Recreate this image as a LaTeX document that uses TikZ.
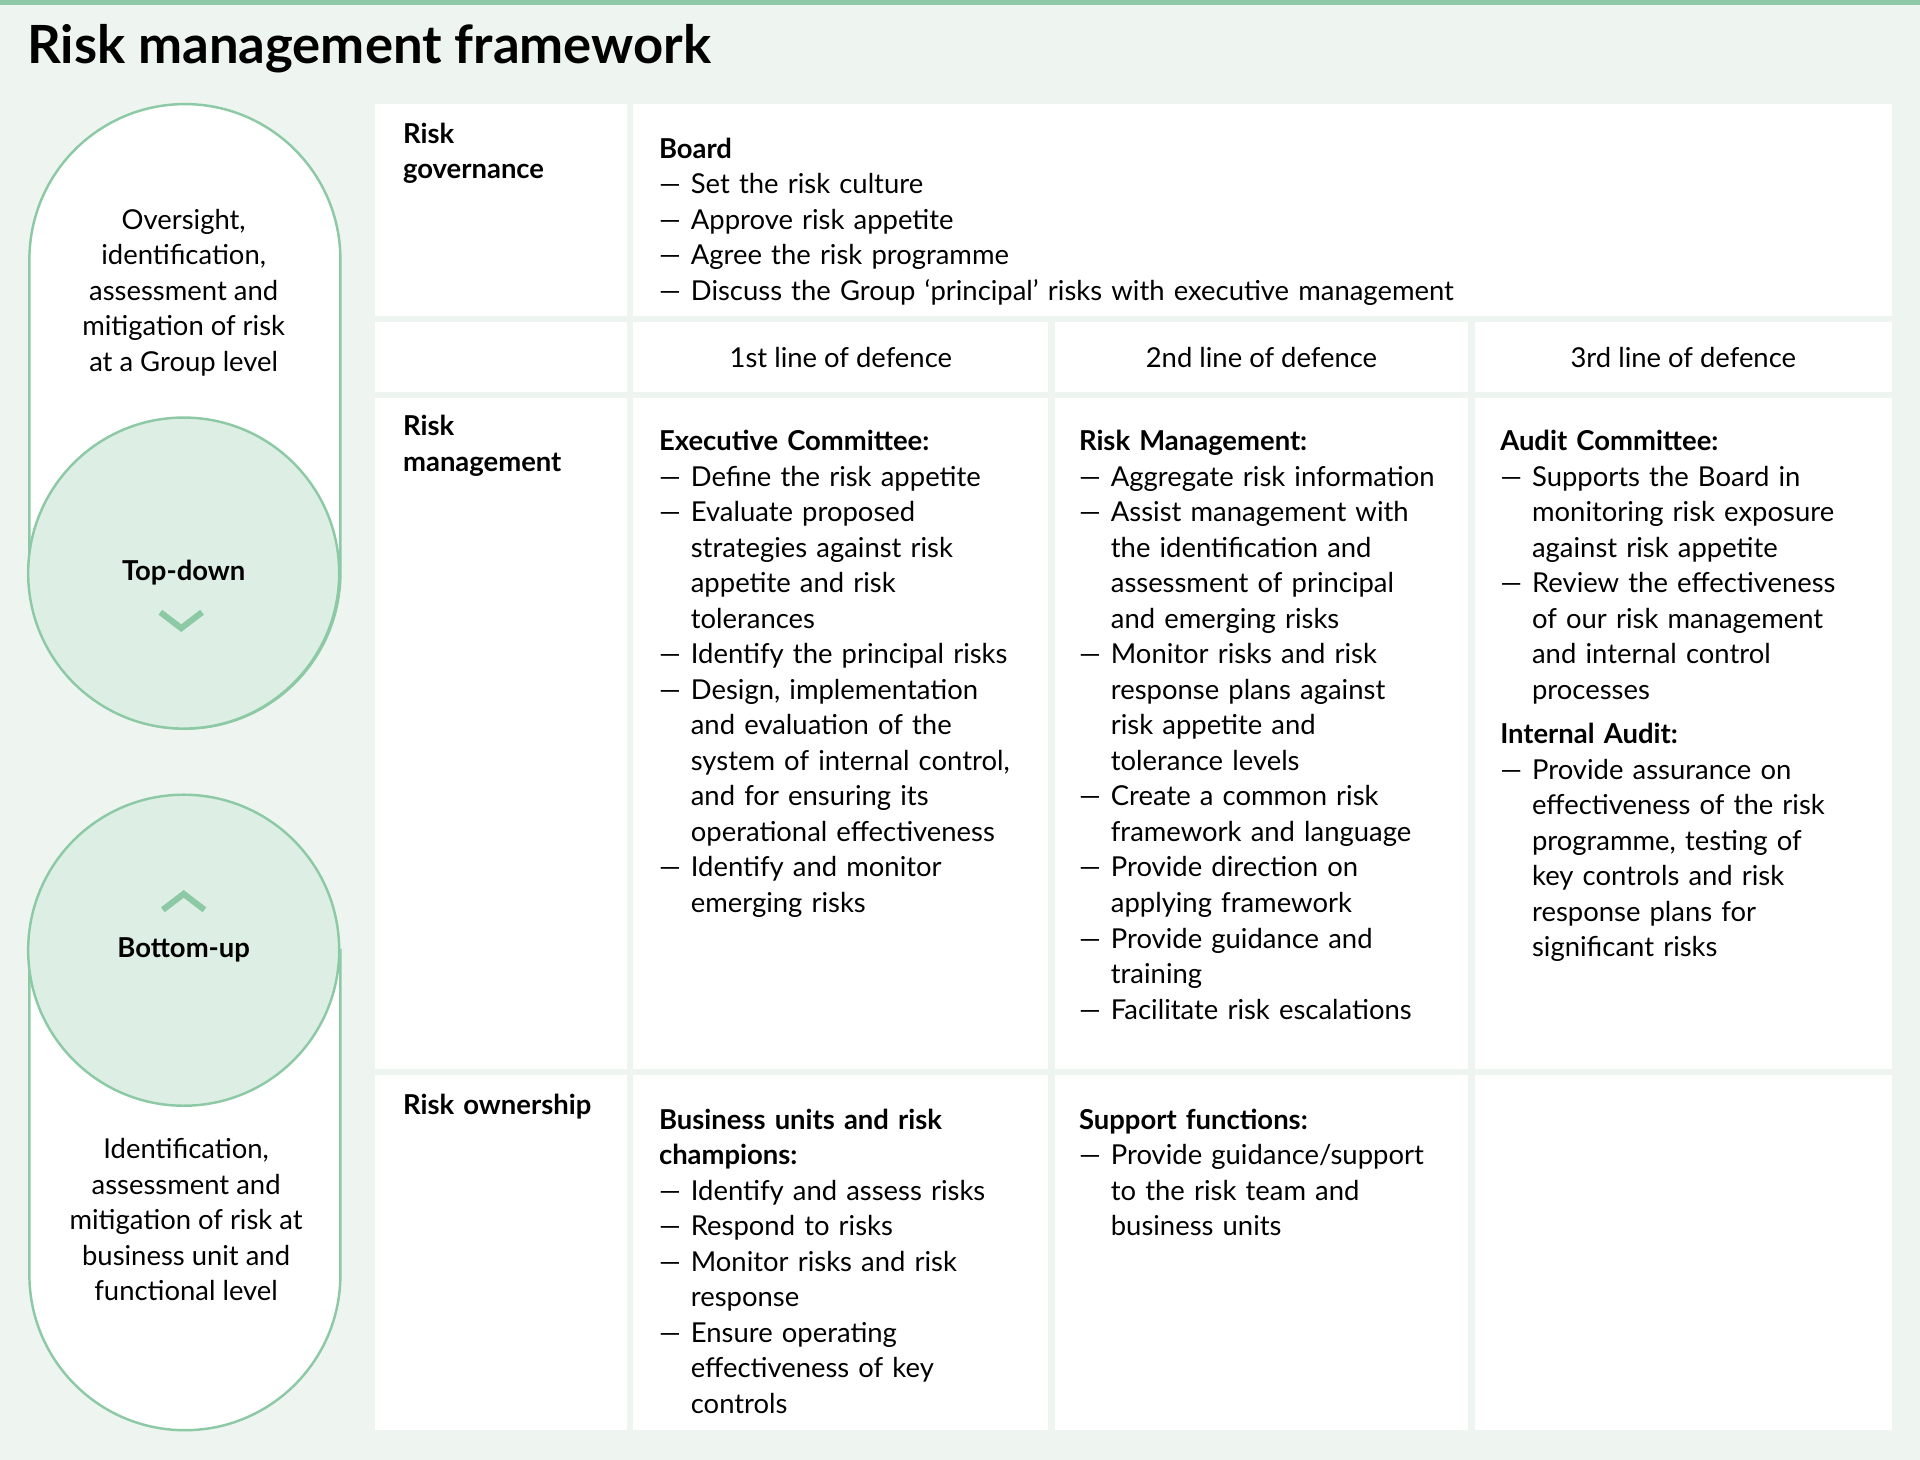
\documentclass[tikz,border=0pt]{standalone}
\usepackage{fontspec}
\setmainfont{Lato}
\definecolor{bgpale}{HTML}{EEF5F1}
\definecolor{rimgreen}{HTML}{8CC9A4}
\definecolor{hubgreen}{HTML}{DDEFE4}
\newcommand\itm[1]{\par\hangindent=26pt\hangafter=1\noindent\makebox[26pt][l]{—}#1\par}
\newcommand\hd[1]{\par\noindent\textbf{#1}\par}

\begin{document}
\begin{tikzpicture}[x=1pt,y=-1pt,
	cell/.style={fill=white,anchor=north west,inner sep=0pt},
	txt/.style={anchor=north west,inner sep=0pt,text width=340pt,align=left,font=\fontsize{22.4}{29}\selectfont},
	side/.style={inner sep=0pt,align=center,font=\fontsize{22.4}{29}\selectfont},
	pill/.style={fill=white,draw=rimgreen,line width=2pt},
	hub/.style={fill=hubgreen,draw=rimgreen,line width=2pt},
	chev/.style={draw=rimgreen,line width=5pt}]

	% background and top rule
	\fill[bgpale] (0,0) rectangle (1568,1192);
	\fill[rimgreen] (0,0) rectangle (1568,4);
	\node[anchor=west,inner sep=0pt,font=\fontsize{43}{50}\selectfont\bfseries] (title) at (22,40) {Risk management framework};

	% left pills
	\draw[pill] (24,212) arc (180:360:127) -- (278,468) arc (0:180:127) -- cycle;
	\draw[hub] (150,468) circle (127);
	\draw[pill] (24,776) -- (278,776) -- (278,1041) arc (0:180:127) -- cycle;
	\draw[hub] (150,776) circle (127);
	\node[side] (toptxt) at (150,239) {Oversight,\\identification,\\assessment and\\mitigation of risk\\at a Group level};
	\node[side,font=\fontsize{22.4}{29}\selectfont\bfseries] (topdown) at (150,468) {Top-down};
	\draw[chev] (131,500) -- (148,513) -- (165,500);
	\node[side,font=\fontsize{22.4}{29}\selectfont\bfseries] (bottomup) at (150,776) {Bottom-up};
	\draw[chev] (133,743) -- (150,730) -- (167,743);
	\node[side] (bottxt) at (152,996) {Identification,\\assessment and\\mitigation of risk at\\business unit and\\functional level};

	% table cells
	\node[cell,minimum width=206pt,minimum height=173pt] (govlab) at (306,85) {};
	\node[cell,minimum width=1028pt,minimum height=173pt] (govbox) at (517,85) {};
	\foreach \cx/\cw [count=\i] in {306/206,517/339,861/338,1204/341}{
		\node[cell,minimum width=\cw pt,minimum height=57pt] (head\i) at (\cx,263) {};
		\node[cell,minimum width=\cw pt,minimum height=548pt] (mgmt\i) at (\cx,325) {};
		\node[cell,minimum width=\cw pt,minimum height=290pt] (own\i) at (\cx,878) {};
	}

	% headers
	\node[side] at (head2.center) {1st line of defence};
	\node[side] at (head3.center) {2nd line of defence};
	\node[side] at (head4.center) {3rd line of defence};

	% row labels
	\node[txt,text width=180pt] (govname) at (329,100) {\textbf{Risk}\newline\textbf{governance}};
	\node[txt,text width=180pt] (mgmtname) at (329,339) {\textbf{Risk}\newline\textbf{management}};
	\node[txt,text width=180pt] (ownname) at (329,893) {\textbf{Risk ownership}};

	% governance
	\node[txt,text width=900pt] (board) at (538,100) {\hd{Board}
		\itm{Set the risk culture}
		\itm{Approve risk appetite}
		\itm{Agree the risk programme}
		\itm{Discuss the Group ‘principal’ risks with executive management}};

	% management
	\node[txt] (exec) at (538,339) {\hd{Executive Committee:}
		\itm{Define the risk appetite}
		\itm{Evaluate proposed\newline strategies against risk\newline appetite and risk\newline tolerances}
		\itm{Identify the principal risks}
		\itm{Design, implementation\newline and evaluation of the\newline system of internal control,\newline and for ensuring its\newline operational effectiveness}
		\itm{Identify and monitor\newline emerging risks}};
	\node[txt] (riskmgmt) at (881,339) {\hd{Risk Management:}
		\itm{Aggregate risk information}
		\itm{Assist management with\newline the identification and\newline assessment of principal\newline and emerging risks}
		\itm{Monitor risks and risk\newline response plans against\newline risk appetite and\newline tolerance levels}
		\itm{Create a common risk\newline framework and language}
		\itm{Provide direction on\newline applying framework}
		\itm{Provide guidance and\newline training}
		\itm{Facilitate risk escalations}};
	\node[txt] (audit) at (1225,339) {\hd{Audit Committee:}
		\itm{Supports the Board in\newline monitoring risk exposure\newline against risk appetite}
		\itm{Review the effectiveness\newline of our risk management\newline and internal control\newline processes}
		\vspace{7pt}\hd{Internal Audit:}
		\itm{Provide assurance on\newline effectiveness of the risk\newline programme, testing of\newline key controls and risk\newline response plans for\newline significant risks}};

	% ownership
	\node[txt] (units) at (538,893) {\hd{Business units and risk\newline champions:}
		\itm{Identify and assess risks}
		\itm{Respond to risks}
		\itm{Monitor risks and risk\newline response}
		\itm{Ensure operating\newline effectiveness of key\newline controls}};
	\node[txt] (support) at (881,893) {\hd{Support functions:}
		\itm{Provide guidance/support\newline to the risk team and\newline business units}};
\end{tikzpicture}
\end{document}
